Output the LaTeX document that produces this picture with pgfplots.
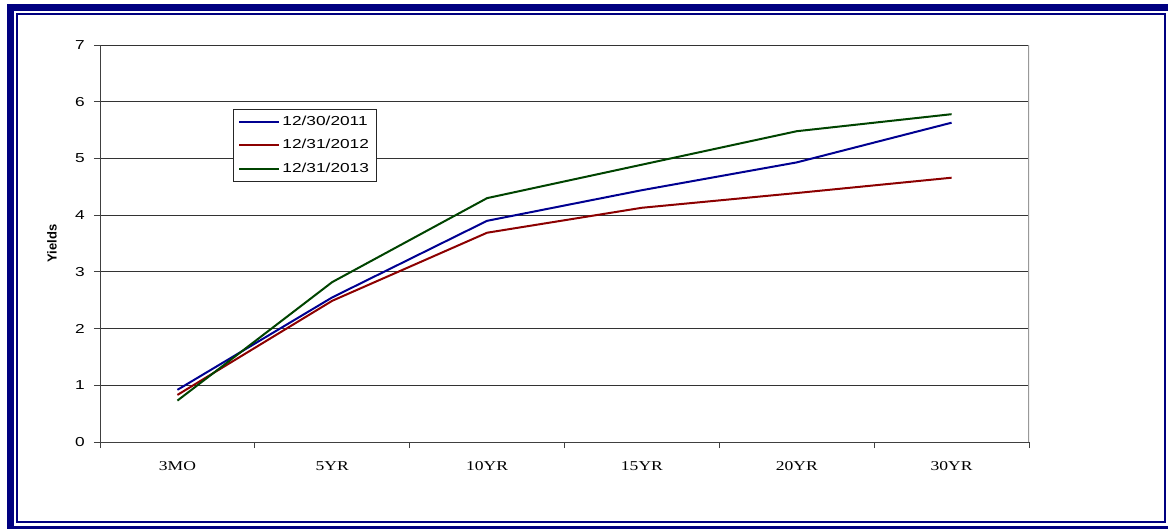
\documentclass[border=0pt]{standalone}
\usepackage{pgfplots}
\pgfplotsset{compat=1.18}
\usepackage{fontspec}
\setmainfont{Liberation Sans}[FakeStretch=1.33]
\newfontfamily\timesfont{Liberation Serif}[FakeStretch=1.3]
\newfontfamily\labfont{Liberation Sans}
\definecolor{navyframe}{RGB}{0,0,128}
\definecolor{sblue}{RGB}{0,0,145}
\definecolor{sred}{RGB}{140,0,0}
\definecolor{sgreen}{RGB}{0,68,0}
\begin{document}
\begin{tikzpicture}
\useasboundingbox (0,0) rectangle (1168bp,529bp);
\fill[white] (0,0) rectangle (1168bp,529bp);
% frame
\fill[navyframe] (7bp,518bp) rectangle (1168bp,525bp);
\fill[navyframe] (7bp,0bp) rectangle (14bp,525bp);
\fill[navyframe] (7bp,0bp) rectangle (1168bp,3bp);
\draw[navyframe, line width=2bp] (16.5bp,6.5bp) rectangle (1165bp,514.5bp);
\begin{axis}[
  at={(100bp,87bp)}, anchor=south west,
  width=929bp, height=397bp, scale only axis,
  xmin=-0.5, xmax=5.5, ymin=0, ymax=7,
  axis x line*=bottom, axis y line*=left,
  axis line style={black!75, line width=1bp},
  xtick={0,1,2,3,4,5},
  xticklabels={3MO,5YR,10YR,15YR,20YR,30YR},
  minor xtick={-0.5,0.5,...,5.5},
  ytick={0,1,...,7},
  minor ytick={0,1,...,7},
  tick align=outside, major tick length=0pt, minor tick length=6bp,
  tick style={black!75, line width=1bp},
  ymajorgrids, major grid style={black!80, line width=1bp},
  /pgf/number format/assume math mode=true,
  xticklabel style={anchor=base, yshift=-28.5bp, font=\timesfont\fontsize{13.5bp}{15bp}\selectfont},
  yticklabel style={anchor=east, inner sep=0pt, xshift=-15bp, font=\fontsize{13bp}{15bp}\selectfont},
  ylabel={Yields},
  ylabel style={at={(rel axis cs:0,0.5)}, anchor=center, yshift=48bp, font=\labfont\bfseries\fontsize{13bp}{15bp}\selectfont},
  legend style={at={(rel axis cs:0.1432,0.8388)}, anchor=north west,
     draw=black!85, line width=0.8bp, inner xsep=5bp, inner ysep=4.2bp,
     row sep=6.3bp, font=\fontsize{13bp}{15bp}\selectfont,
     nodes={inner xsep=2bp, inner ysep=2bp, text height=10bp, text depth=3bp}},
  legend cell align=left,
  legend image code/.code={\draw[#1, line width=2bp] (0bp,0bp) -- (40bp,0bp);},
  every axis plot/.append style={line width=2bp, mark=none},
]
\addplot[sblue] coordinates {(0,0.92) (1,2.55) (2,3.90) (3,4.44) (4,4.93) (5,5.63)};
\addlegendentry{12/30/2011}
\addplot[sred] coordinates {(0,0.83) (1,2.49) (2,3.69) (3,4.13) (4,4.39) (5,4.66)};
\addlegendentry{12/31/2012}
\addplot[sgreen] coordinates {(0,0.73) (1,2.82) (2,4.30) (3,4.89) (4,5.48) (5,5.78)};
\addlegendentry{12/31/2013}
\draw[black!40, line width=1.2bp] (rel axis cs:1,0) -- (rel axis cs:1,1);
\end{axis}
\end{tikzpicture}
\end{document}
